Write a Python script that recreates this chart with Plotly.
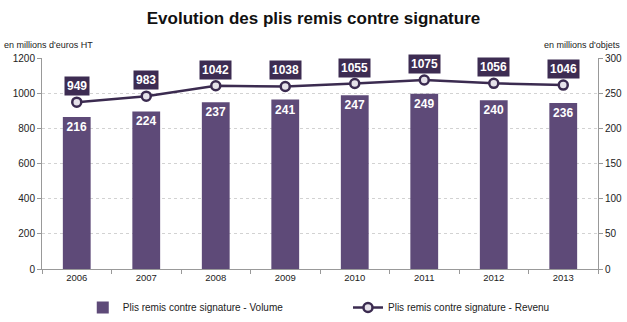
import plotly.graph_objects as go

years = ["2006", "2007", "2008", "2009", "2010", "2011", "2012", "2013"]
volume = [216, 224, 237, 241, 247, 249, 240, 236]        # millions d'objets
revenu = [949, 983, 1042, 1038, 1055, 1075, 1056, 1046]  # millions d'euros HT

bar_color = "#5e4a78"
line_color = "#3b2b50"
label_bg = "#3d2c52"
font_family = "Liberation Sans, Arial, sans-serif"

fig = go.Figure()

fig.add_trace(go.Bar(
    x=years, y=volume, yaxis="y", legend="legend",
    name="Plis remis contre signature - Volume",
    marker=dict(color=bar_color, line=dict(width=0)),
    width=0.4,
    text=[str(v) for v in volume],
    textposition="inside", insidetextanchor="end",
    textfont=dict(color="white", size=12, family=font_family, weight="bold"),
    cliponaxis=False,
))

fig.add_trace(go.Scatter(
    x=years, y=revenu, yaxis="y2", legend="legend2",
    name="Plis remis contre signature - Revenu",
    mode="lines+markers",
    line=dict(color=line_color, width=2.5),
    marker=dict(symbol="circle", size=9, color="#e6e2ea",
                line=dict(color=line_color, width=2.5)),
))

# value boxes above the revenue points (category axis -> serial index)
for i, v in enumerate(revenu):
    fig.add_annotation(
        x=i, y=v, xref="x", yref="y2", text=f"<b>{v}</b>",
        showarrow=False, yshift=16,
        bgcolor=label_bg, borderpad=2,
        font=dict(color="white", size=12, family=font_family),
    )

fig.add_annotation(x=0, y=1.03, xref="paper", yref="paper", xanchor="left",
                   yanchor="bottom", xshift=-40, text="en millions d'euros HT",
                   showarrow=False, font=dict(size=9, color="#222", family=font_family))
fig.add_annotation(x=1, y=1.03, xref="paper", yref="paper", xanchor="right",
                   yanchor="bottom", xshift=24, text="en millions d'objets",
                   showarrow=False, font=dict(size=9, color="#222", family=font_family))

legend_common = dict(orientation="h", xanchor="left", yref="container", y=0.045,
                     yanchor="middle", font=dict(size=10, color="#222"),
                     itemwidth=30, xref="container")

fig.update_layout(
    width=627, height=322,
    margin=dict(l=42, r=29, t=58, b=53, autoexpand=False),
    paper_bgcolor="white", plot_bgcolor="white",
    font=dict(family=font_family, size=10, color="#222"),
    title=dict(text="<b>Evolution des plis remis contre signature</b>",
               x=0.5, xanchor="center", y=0.945, yanchor="middle",
               font=dict(size=17, color="#111", family=font_family)),
    showlegend=True,
    legend=dict(x=0.132, **legend_common),
    legend2=dict(x=0.555, **legend_common),
    xaxis=dict(type="category", range=[-0.5, 7.5], showline=True, linecolor="#999",
               linewidth=1, ticks="outside", tickson="boundaries", ticklen=4,
               tickcolor="#999", showgrid=False, tickfont=dict(size=9.5)),
    yaxis=dict(side="right", range=[0, 300], dtick=50,
               showgrid=True, gridcolor="#d2d2d2", griddash="dot", gridwidth=1,
               showline=True, linecolor="#999", ticks="outside", ticklen=4,
               tickcolor="#999", zeroline=False, tickfont=dict(size=10)),
    yaxis2=dict(side="left", overlaying="y", range=[0, 1200], dtick=200,
                showgrid=False,
                showline=True, linecolor="#999", ticks="outside", ticklen=4,
                tickcolor="#999", zeroline=False, tickfont=dict(size=10)),
)

fig.write_html("out.html")
